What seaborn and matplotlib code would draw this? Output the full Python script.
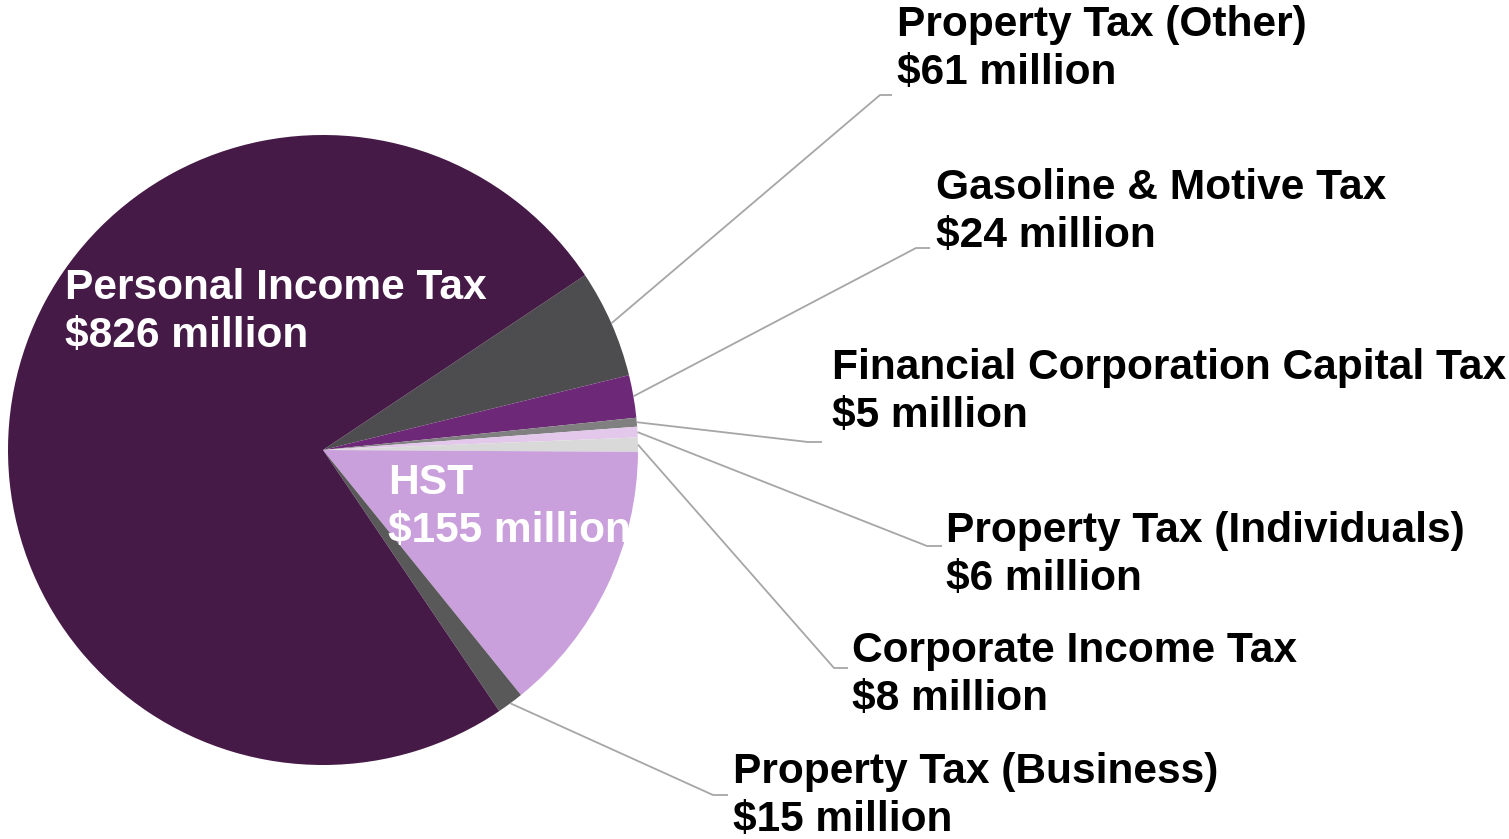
import numpy as np
import seaborn as sns
import matplotlib.pyplot as plt

# data
categories = ["Property Tax (Other)", "Gasoline & Motive Tax", "Financial Corporation Capital Tax",
              "Property Tax (Individuals)", "Corporate Income Tax", "HST",
              "Property Tax (Business)", "Personal Income Tax"]
values = [61, 24, 5, 6, 8, 155, 15, 826]
value_labels = ["$61 million", "$24 million", "$5 million", "$6 million",
                "$8 million", "$155 million", "$15 million", "$826 million"]
colors = ["#4D4D4F", "#6D2877", "#808080", "#E4C8EC",
          "#D9D9D9", "#C9A0DC", "#595959", "#461A47"]

W, H = 1509, 839
CX, CY, R = 323, 450, 315


def y(py):
    # pixel row -> data y
    return H - py


sns.set_theme(style="white")
plt.rcParams['font.family'] = ['Liberation Sans', 'DejaVu Sans']

fig = plt.figure(figsize=(W / 100, H / 100), dpi=100)
ax = fig.add_axes([0, 0, 1, 1])
wedges, _ = ax.pie(values, colors=colors, startangle=33.7, counterclock=False,
                   radius=R, center=(CX, y(CY)),
                   wedgeprops=dict(linewidth=0))
ax.set_xlim(0, W)
ax.set_ylim(0, H)
ax.set_aspect('equal')
ax.axis('off')

fs = 30.6
ls = 1.25
# labels inside the pie
inside = {"Personal Income Tax": (65, 312), "HST": (388, 507)}
# outside labels: text left x, text center row, elbow point, end point
outside = {
    "Property Tax (Other)": (897, 49, (880, 95), (892, 95)),
    "Gasoline & Motive Tax": (936, 212, (916, 248), (930, 248)),
    "Financial Corporation Capital Tax": (832, 392, (808, 442), (822, 442)),
    "Property Tax (Individuals)": (946, 555, (927, 546), (942, 546)),
    "Corporate Income Tax": (852, 675, (834, 668), (848, 668)),
    "Property Tax (Business)": (733, 796, (713, 795), (728, 795)),
}

for w, cat, vl in zip(wedges, categories, value_labels):
    txt = f"{cat}\n{vl}"
    if cat in inside:
        tx, ty = inside[cat]
        ax.text(tx, y(ty), txt, color="white", fontsize=fs, fontweight="bold",
                ha="left", va="center", linespacing=ls)
        continue
    tx, ty, elbow, end = outside[cat]
    mid = np.deg2rad((w.theta1 + w.theta2) / 2)
    sx = CX + R * np.cos(mid)
    sy = y(CY) + R * np.sin(mid)
    ax.plot([sx, elbow[0], end[0]], [sy, y(elbow[1]), y(end[1])],
            color="#A6A6A6", lw=1.3, solid_capstyle="butt")
    ax.text(tx, y(ty), txt, color="black", fontsize=fs, fontweight="bold",
            ha="left", va="center", linespacing=ls)

fig.savefig("out.png", dpi=100)
